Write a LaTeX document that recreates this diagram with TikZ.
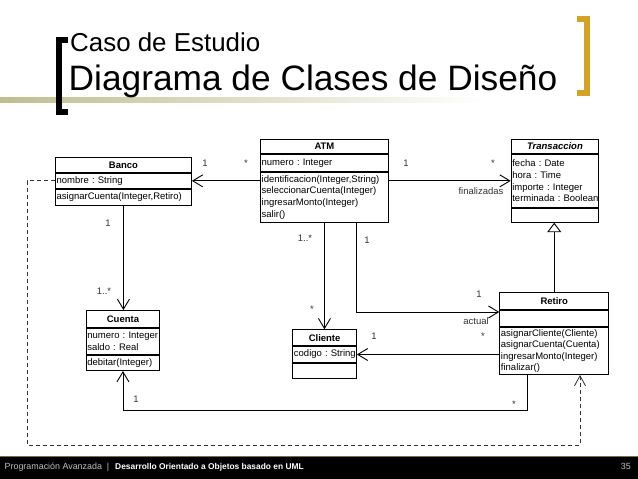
\documentclass[tikz,border=0pt]{standalone}
\usepackage{fontspec}
\setmainfont{Liberation Sans}
\usetikzlibrary{arrows.meta}
\definecolor{band}{HTML}{BFBE90}
\definecolor{gold}{HTML}{D4A324}
\definecolor{barline}{HTML}{8A6A30}
\definecolor{footgray}{HTML}{BEBEBE}
\definecolor{lbl}{HTML}{333333}
\newcommand{\umlfont}{\fontsize{9.5}{11.6}\selectfont}
\tikzset{
  cmp/.style={draw, line width=0.9pt, inner xsep=1.2pt, inner ysep=0pt, text width=#1,
    align=left, anchor=north west, font=\umlfont},
  hdr/.style={cmp=#1, align=center, font=\umlfont\bfseries},
  mult/.style={font=\umlfont, text=lbl, inner sep=0pt, anchor=base},
  assoc/.style={-{Straight Barb[length=10pt, width=12pt]}, line width=0.9pt},
  gen/.style={-{Triangle[open, length=9.5pt, width=14pt]}, line width=0.9pt},
  dep/.style={-{Straight Barb[length=10pt, width=11pt]}, line width=0.8pt,
    dash pattern=on 4pt off 3pt, draw=black!80},
}
\begin{document}
\begin{tikzpicture}[x=1pt, y=-1pt]
  \useasboundingbox (0,0) rectangle (638,479);
  \fill[white] (0,0) rectangle (638,479);
  % title
  \shade[left color=band, right color=white] (0,97) rectangle (485,102);
  \draw[line width=6pt] (68,40) -- (58.5,40) -- (58.5,112) -- (68,112);
  \draw[gold, line width=6pt] (577,18.5) -- (587,18.5) -- (587,92.5) -- (577,92.5);
  \node[anchor=base west, inner sep=0pt, font=\fontsize{25.9}{30}\selectfont] (sub) at (70,52) {Caso de Estudio};
  \node[anchor=base west, inner sep=0pt, font=\fontsize{35.3}{40}\selectfont] (title) at (68.5,90) {Diagrama de Clases de Diseño};
  % classes
  \node[hdr=133.6pt, minimum height=15pt] (banco) at (55,157) {Banco};
  \node[cmp=133.6pt, minimum height=15pt] (banco-a) at (banco.south west) {nombre~:~String};
  \node[cmp=133.6pt, minimum height=16pt] (banco-m) at (banco-a.south west) {asignarCuenta(Integer,Retiro)};
  \node[hdr=125.6pt, minimum height=14pt] (atm) at (260,139) {ATM};
  \node[cmp=125.6pt, minimum height=17pt] (atm-a) at (atm.south west) {numero~:~Integer};
  \node[cmp=125.6pt, minimum height=50pt] (atm-m) at (atm-a.south west)
    {identificacion(Integer,String)\\ seleccionarCuenta(Integer)\\ ingresarMonto(Integer)\\ salir()};
  \node[hdr=85.2pt, minimum height=14pt] (trans) at (510.7,139) {\itshape Transaccion};
  \node[cmp=85.2pt, minimum height=53pt] (trans-a) at (trans.south west)
    {fecha~:~Date\\ hora~:~Time\\ importe~:~Integer\\ terminada~:~Boolean};
  \node[cmp=85.2pt, minimum height=14pt] (trans-m) at (trans-a.south west) {};
  \node[hdr=106.6pt, minimum height=17pt] (retiro) at (499.3,292.3) {Retiro};
  \node[cmp=106.6pt, minimum height=16pt] (retiro-a) at (retiro.south west) {};
  \node[cmp=106.6pt, minimum height=47pt] (retiro-m) at (retiro-a.south west)
    {asignarCliente(Cliente)\\ asignarCuenta(Cuenta)\\ ingresarMonto(Integer)\\ finalizar()};
  \node[hdr=61.3pt, minimum height=16pt] (cliente) at (292.3,329.3) {Cliente};
  \node[cmp=61.3pt, minimum height=15.7pt] (cliente-a) at (cliente.south west) {codigo~:~String};
  \node[cmp=61.3pt, minimum height=15pt] (cliente-m) at (cliente-a.south west) {};
  \node[hdr=71.2pt, minimum height=17.3pt] (cuenta) at (85.7,310) {Cuenta};
  \node[cmp=71.2pt, minimum height=25.5pt] (cuenta-a) at (cuenta.south west) {numero~:~Integer\\ saldo~:~Real};
  \node[cmp=71.2pt, minimum height=15.5pt] (cuenta-m) at (cuenta-a.south west) {debitar(Integer)};
  % connectors
  \coordinate (atmR) at (356,312);
  \coordinate (lowR) at (527,410);
  \coordinate (depL) at (27,445);
  \coordinate (depR) at (580,445);
  \draw[assoc] (atm-m.west |- banco-a) -- (banco-a.east);
  \draw[assoc] (atm-m.east |- banco-a) -- (trans-a.west |- banco-a);
  \draw[assoc] (banco-m.south) -- (banco-m.south |- cuenta.north);
  \draw[assoc] (atm-m.south) -- (atm-m.south |- cliente.north);
  \draw[assoc] (atm-m.south -| atmR) -- (atmR) -- (atmR -| retiro-a.west);
  \draw[assoc] (retiro-m.west |- cliente-a) -- (cliente-a.east);
  \draw[assoc] (retiro-m.south -| lowR) -- (lowR) -| (cuenta-m.south);
  \draw[gen] (retiro.north) -- (retiro.north |- trans-m.south);
  \draw[dep] (banco-a.west) -| (depL) -- (depR) -- (depR |- retiro-m.south);
  % multiplicities
  \node[mult] (m1) at (205,166) {1};
  \node[mult] (m2) at (246,166.5) {*};
  \node[mult] (m3) at (406,166.5) {1};
  \node[mult] (m4) at (493,166.5) {*};
  \node[mult] (r1) at (481,194.5) {finalizadas};
  \node[mult] (m5) at (108,226) {1};
  \node[mult] (m6) at (104,294.5) {1..*};
  \node[mult] (m7) at (305,241.5) {1..*};
  \node[mult] (m8) at (367,243.5) {1};
  \node[mult] (m9) at (312,312.5) {*};
  \node[mult] (m10) at (479,297.5) {1};
  \node[mult] (r2) at (476,324.5) {actual};
  \node[mult] (m11) at (374,339.5) {1};
  \node[mult] (m12) at (483,339.5) {*};
  \node[mult] (m13) at (136,402.5) {1};
  \node[mult] (m14) at (514,407.5) {*};
  % footer
  \fill[black] (0,456) rectangle (638,479);
  \draw[barline, line width=1.2pt] (0,456.6) -- (638,456.6);
  \node[anchor=base west, inner sep=0pt, text=footgray, font=\fontsize{8.9}{10}\selectfont] (foot) at (4.5,469) {Programación Avanzada \ | };
  \node[anchor=base west, inner sep=0pt, text=white, font=\fontsize{8.4}{10}\selectfont\bfseries] (footb) at (115,469) {Desarrollo Orientado a Objetos basado en UML};
  \node[anchor=base east, inner sep=0pt, text=footgray, font=\fontsize{8.9}{10}\selectfont] (page) at (631,469) {35};
\end{tikzpicture}
\end{document}
